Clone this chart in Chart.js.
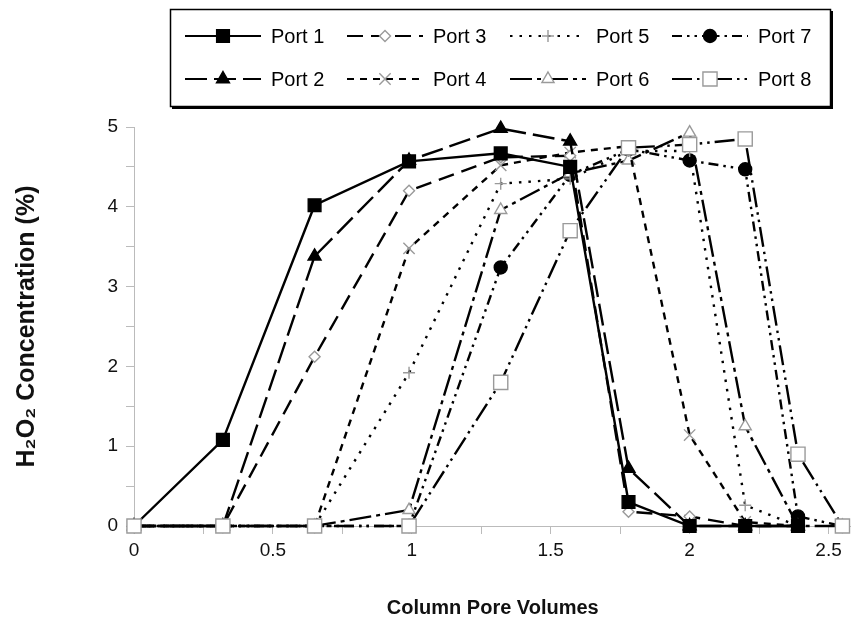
<!DOCTYPE html>
<html>
<head>
<meta charset="utf-8">
<script src="https://cdn.jsdelivr.net/npm/chart.js@4.4.1/dist/chart.umd.min.js"></script>
<style>
  html, body { margin: 0; padding: 0; background: #fff; overflow: hidden; }
  /* canvas is a bit wider than the window: the line controller keeps a
     marker-sized margin on the right, the original axis runs to the edge */
  #wrap { width: 851px; height: 629px; overflow: hidden; }
</style>
</head>
<body>
<div id="wrap"><canvas id="h2o2Chart" width="863" height="629"></canvas></div>
<script>
// column pore volumes sampled at each port
const volumes = [0, 0.32, 0.65, 0.99, 1.32, 1.57, 1.78, 2.0, 2.2, 2.39, 2.55];

// H2O2 concentration (%) per port, null = not sampled
const port1 = [0, 1.08, 4.02, 4.57, 4.67, 4.5, 0.3, 0, 0, 0, null];
const port2 = [0, 0, 3.38, 4.58, 4.98, 4.82, 0.72, 0, 0, 0, null];
const port3 = [0, 0, 2.12, 4.2, 4.62, 4.64, 0.18, 0.12, 0, 0, null];
const port4 = [0, 0, 0, 3.48, 4.52, 4.68, 4.76, 1.14, 0.05, 0, null];
const port5 = [0, 0, 0, 1.92, 4.29, 4.35, 4.7, 4.7, 0.26, 0, null];
const port6 = [0, 0, 0, 0.2, 3.96, 4.42, 4.58, 4.93, 1.25, 0, 0];
const port7 = [0, 0, 0, 0, 3.24, 4.4, 4.72, 4.58, 4.47, 0.12, 0];
const port8 = [0, 0, 0, 0, 1.8, 3.7, 4.74, 4.78, 4.85, 0.9, 0];

const portNames = ['Port 1', 'Port 2', 'Port 3', 'Port 4', 'Port 5', 'Port 6', 'Port 7', 'Port 8'];
// major ticks get a label, minor ticks in between stay blank
const xTicks = [0, 0.25, 0.5, 0.75, 1, 1.25, 1.5, 1.75, 2, 2.25, 2.5];
const xTickLabels = ['0', '', '0.5', '', '1', '', '1.5', '', '2', '', '2.5'];
const yTicks = [0, 0.5, 1, 1.5, 2, 2.5, 3, 3.5, 4, 4.5, 5];
const yTickLabels = ['0', '', '1', '', '2', '', '3', '', '4', '', '5'];

const FONT = "'Liberation Sans', Arial, sans-serif";
const GREY = '#9a9a9a';

function toPoints(arr) {
  const pts = [];
  volumes.forEach((v, i) => {
    if (arr[i] !== null) pts.push({ x: v, y: arr[i] });
  });
  return pts;
}

// line / marker look of each port
const styles = [
  { dash: [], point: 'rect', r: 9, fill: '#000', stroke: '#000' },
  { dash: [22, 7], point: 'triangle', r: 7.5, fill: '#000', stroke: '#000' },
  { dash: [16, 8], point: 'rectRot', r: 5.5, fill: '#fff', stroke: GREY },
  { dash: [7, 6], point: 'crossRot', r: 8, fill: '#fff', stroke: GREY },
  { dash: [2.5, 7], point: 'cross', r: 6, fill: '#fff', stroke: GREY },
  { dash: [22, 5, 4, 5], point: 'triangle', r: 7, fill: '#fff', stroke: GREY },
  { dash: [10, 5, 2.5, 5, 2.5, 5], point: 'circle', r: 6.5, fill: '#000', stroke: '#000' },
  { dash: [20, 5, 2.5, 5, 2.5, 5], point: 'rect', r: 10, fill: '#fff', stroke: GREY }
];

const series = [port1, port2, port3, port4, port5, port6, port7, port8];

const datasets = series.map((arr, i) => ({
  label: portNames[i],
  data: toPoints(arr),
  borderColor: '#000',
  borderWidth: 2.4,
  borderDash: styles[i].dash,
  pointStyle: styles[i].point,
  pointRadius: styles[i].r,
  pointBackgroundColor: styles[i].fill,
  pointBorderColor: styles[i].stroke,
  pointBorderWidth: 1.4,
  fill: false,
  tension: 0,
  clip: false,
  order: i === 7 ? 0 : 1
}));

// legend drawn as a boxed 4x2 grid like the original figure
const boxLegend = {
  id: 'boxLegend',
  afterDraw(chart) {
    const ctx = chart.ctx;
    ctx.save();
    ctx.strokeStyle = '#000';
    ctx.lineWidth = 1.5;
    ctx.setLineDash([]);
    ctx.strokeRect(170.5, 9.5, 660, 97);
    ctx.lineWidth = 2;
    ctx.beginPath();
    ctx.moveTo(832, 11); ctx.lineTo(832, 108); ctx.lineTo(172, 108);
    ctx.stroke();

    const cols = [223, 385, 548, 710];
    const rows = [36, 79];
    const order = [0, 2, 4, 6, 1, 3, 5, 7];
    order.forEach((di, k) => {
      const ds = chart.data.datasets[di];
      const cx = cols[k % 4];
      const cy = rows[Math.floor(k / 4)];
      ctx.strokeStyle = '#000';
      ctx.lineWidth = 2.2;
      ctx.setLineDash(ds.borderDash);
      ctx.beginPath();
      ctx.moveTo(cx - 38, cy);
      ctx.lineTo(cx + 38, cy);
      ctx.stroke();
      ctx.setLineDash([]);
      ctx.fillStyle = ds.pointBackgroundColor;
      ctx.strokeStyle = ds.pointBorderColor;
      ctx.lineWidth = ds.pointBorderWidth;
      Chart.helpers.drawPoint(ctx, {
        pointStyle: ds.pointStyle,
        radius: ds.pointRadius,
        rotation: 0,
        borderWidth: ds.pointBorderWidth
      }, cx, cy);
      ctx.fillStyle = '#000';
      ctx.font = '20px ' + FONT;
      ctx.textAlign = 'left';
      ctx.textBaseline = 'middle';
      ctx.fillText(ds.label, cx + 48, cy + 1);
    });
    ctx.restore();
  }
};

new Chart(document.getElementById('h2o2Chart'), {
  type: 'line',
  data: { datasets: datasets },
  options: {
    responsive: false,
    animation: false,
    layout: { padding: { top: 127, right: 0, left: 0, bottom: 0 } },
    plugins: {
      legend: { display: false },
      tooltip: { enabled: false }
    },
    scales: {
      x: {
        type: 'linear',
        min: 0,
        max: 2.583,
        afterBuildTicks(scale) { scale.ticks = xTicks.map(v => ({ value: v })); },
        afterFit(scale) {
          scale.height = 103;
          scale.paddingLeft = 0;
          scale.paddingRight = 0;
        },
        border: { display: true, color: '#bbb', width: 1 },
        grid: { display: true, drawOnChartArea: false, drawTicks: true, tickLength: 8, color: '#bbb' },
        ticks: {
          autoSkip: false,
          maxRotation: 0,
          padding: 5,
          color: '#111',
          font: { family: FONT, size: 19 },
          callback(v, i) { return xTickLabels[i]; }
        },
        title: {
          display: true,
          text: 'Column Pore Volumes',
          color: '#111',
          font: { family: FONT, size: 20, weight: 'bold' },
          padding: { top: 0, bottom: 9 }
        }
      },
      y: {
        type: 'linear',
        min: 0,
        max: 5,
        afterBuildTicks(scale) { scale.ticks = yTicks.map(v => ({ value: v })); },
        afterFit(scale) { scale.width = 134; },
        border: { display: true, color: '#bbb', width: 1 },
        grid: { display: true, drawOnChartArea: false, drawTicks: true, tickLength: 8, color: '#bbb' },
        ticks: {
          autoSkip: false,
          padding: 8,
          color: '#111',
          font: { family: FONT, size: 19 },
          callback(v, i) { return yTickLabels[i]; }
        },
        title: {
          display: true,
          text: 'H\u2082O\u2082 Concentration (%)',
          color: '#111',
          font: { family: FONT, size: 25, weight: 'bold' },
          padding: { top: 12, bottom: 0 }
        }
      }
    }
  },
  plugins: [boxLegend]
});
</script>
</body>
</html>
